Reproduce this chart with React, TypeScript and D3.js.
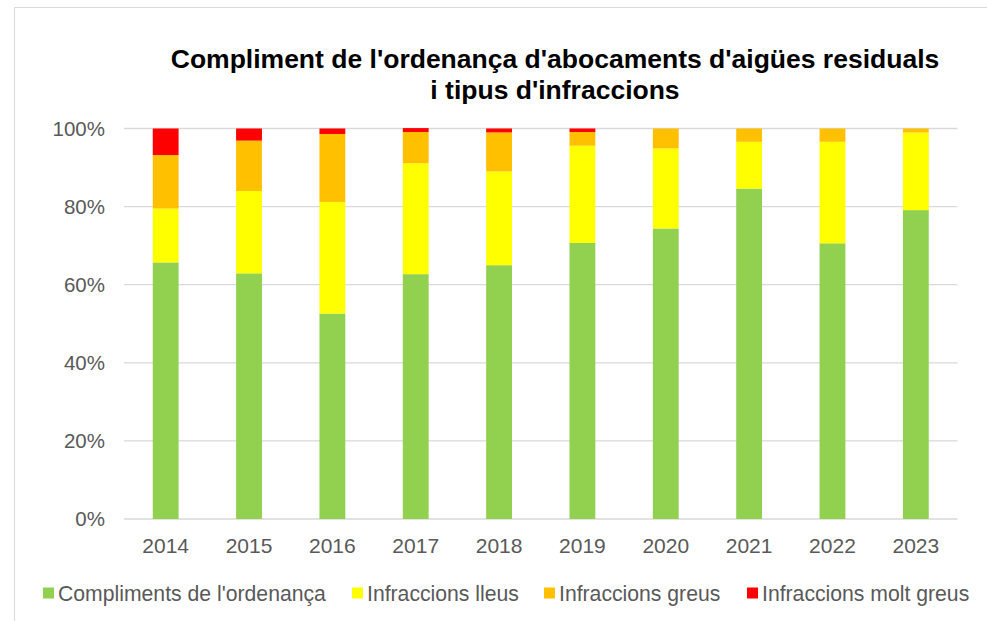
import React from "react";
import * as d3 from "d3";

const years = ["2014", "2015", "2016", "2017", "2018", "2019", "2020", "2021", "2022", "2023"];
const compliments = [65.7, 62.9, 52.6, 62.7, 65.0, 70.7, 74.4, 84.6, 70.6, 79.1];
const lleus = [13.8, 21.1, 28.6, 28.4, 24.0, 24.9, 20.5, 12.0, 26.0, 19.9];
const greus = [13.7, 12.9, 17.4, 8.0, 10.0, 3.5, 5.1, 3.4, 3.4, 1.0];
const moltGreus = [6.8, 3.1, 1.4, 1.0, 1.0, 0.9, 0, 0, 0, 0];
const seriesNames = [
  "Compliments de l'ordenança",
  "Infraccions lleus",
  "Infraccions greus",
  "Infraccions molt greus",
];
const colors = ["#92d050", "#ffff00", "#ffc000", "#ff0000"];
const yTicks = [0, 20, 40, 60, 80, 100];

const W = 987;
const H = 621;
const font = "'Liberation Sans', Arial, sans-serif";

export default function App() {
  const rows = years.map((y, i) => ({
    year: y,
    s0: compliments[i],
    s1: lleus[i],
    s2: greus[i],
    s3: moltGreus[i],
  }));
  const stack = d3.stack<any>().keys(["s0", "s1", "s2", "s3"])(rows);

  const x = d3.scaleBand().domain(years).range([124, 957.5]).paddingInner(0.69).paddingOuter(0.345);
  const y = d3.scaleLinear().domain([0, 100]).range([519, 128.5]);

  // legend square x positions, text follows 15px later
  const legendX = [43, 352, 544, 747];

  return (
    <div style={{ position: "absolute", left: 0, top: 0 }}>
      <svg width={W} height={H} style={{ display: "block", background: "#fff" }}>
        <rect x={14.5} y={7.5} width={990} height={640} fill="none" stroke="#d9d9d9" />
        <text x={555} y={68} textAnchor="middle" fontFamily={font} fontWeight="bold" fontSize={26.5} fill="#000">
          Compliment de l'ordenança d'abocaments d'aigües residuals
        </text>
        <text x={555} y={99} textAnchor="middle" fontFamily={font} fontWeight="bold" fontSize={26.5} fill="#000">
          i tipus d'infraccions
        </text>
        {yTicks.map((t) => (
          <g key={t}>
            <line x1={124} x2={957.5} y1={y(t)} y2={y(t)} stroke="#d9d9d9" strokeWidth={1.3} />
            <text x={105} y={y(t)} dy="0.35em" textAnchor="end" fontFamily={font} fontSize={20.5} fill="#595959">
              {t}%
            </text>
          </g>
        ))}
        {stack.map((s, si) => (
          <g key={si} fill={colors[si]}>
            {s.map((d, i) => (
              <rect
                key={i}
                x={x(years[i])}
                width={x.bandwidth()}
                y={y(d[1])}
                height={Math.max(0, y(d[0]) - y(d[1]))}
              />
            ))}
          </g>
        ))}
        {years.map((yr) => (
          <text
            key={yr}
            x={(x(yr) as number) + x.bandwidth() / 2}
            y={553}
            textAnchor="middle"
            fontFamily={font}
            fontSize={21}
            fill="#595959"
          >
            {yr}
          </text>
        ))}
        {seriesNames.map((n, i) => (
          <g key={n}>
            <rect x={legendX[i]} y={587.5} width={11} height={11} fill={colors[i]} />
            <text x={legendX[i] + 15} y={601} fontFamily={font} fontSize={21.2} fill="#595959">
              {n}
            </text>
          </g>
        ))}
      </svg>
    </div>
  );
}
